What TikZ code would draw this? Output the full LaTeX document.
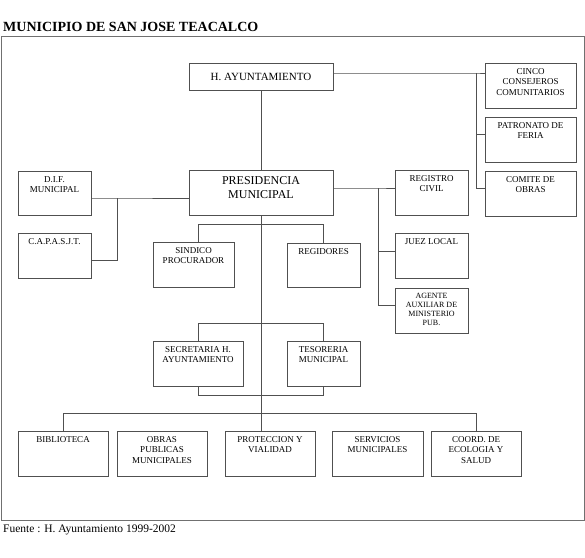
\documentclass[tikz,border=0pt]{standalone}
\usepackage{fontspec}
\setmainfont{Liberation Serif}
\definecolor{linec}{HTML}{505050}
\definecolor{framec}{HTML}{707070}
\newcommand{\smallfont}{\fontsize{9}{10.5}\selectfont}
\newcommand{\tinyfont}{\fontsize{8}{9}\selectfont}
\begin{document}
\begin{tikzpicture}[x=1pt,y=-1pt,
  orgbox/.style={draw=linec, line width=0.9pt, inner sep=0pt, fill=white},
  boxtext/.style={anchor=north, inner sep=0pt, align=center, font=\smallfont, text=black, yshift=-5.5pt},
  conn/.style={draw=linec, line width=0.9pt},
  bw/.style={minimum width=73pt, minimum height=45pt},
  ww/.style={minimum width=90pt, minimum height=45pt}]
\useasboundingbox (0,0) rectangle (585,557);
\fill[white] (0,0) rectangle (585,557);
% title and footer
\node[anchor=west, inner sep=0pt, font=\fontsize{14}{16}\selectfont\bfseries] (title) at (3,27) {MUNICIPIO DE SAN JOSE TEACALCO};
\node[anchor=west, inner sep=0pt, font=\fontsize{11.5}{13}\selectfont] (fuente) at (3,530) {Fuente : H. Ayuntamiento 1999-2002};
% frame
\draw[framec, line width=1pt] (1.5,36.5) rectangle (584,520);
% junction coordinates
\coordinate (bustop) at (476,73);
\coordinate (busbot) at (476,188);
\coordinate (difj) at (117,198);
\coordinate (capj) at (117,260);
\coordinate (regj) at (378,188);
\coordinate (agj) at (378,305);
\coordinate (sr) at (198,224);
\coordinate (rr) at (323,224);
\coordinate (st) at (198,323);
\coordinate (tt) at (323,323);
\coordinate (sb) at (198,395);
\coordinate (tb) at (323,395);
\coordinate (bl) at (63,413);
\coordinate (br) at (476,413);
% connectors (drawn first, boxes on top)
\draw[conn] (261,90) -- (261,170);
\draw[conn] (261,215) -- (261,431);
\draw[conn] (333,73) -- (bustop) -- (485,73);
\draw[conn] (bustop) -- (busbot) -- (485,188);
\draw[conn] (476,134) -- (485,134);
\draw[conn] (91,198) -- (difj) -- (189,198);
\draw[conn] (difj) -- (capj) -- (91,260);
\draw[conn] (333,188) -- (regj) -- (395,188);
\draw[conn] (regj) -- (agj) -- (395,305);
\draw[conn] (378,251) -- (395,251);
\draw[conn] (198,242) -- (sr) -- (rr) -- (323,243);
\draw[conn] (198,341) -- (st) -- (tt) -- (323,341);
\draw[conn] (198,386) -- (sb) -- (tb) -- (323,386);
\draw[conn] (63,431) -- (bl) -- (br) -- (476,431);
% boxes
\node[orgbox, minimum width=144pt, minimum height=27pt, font=\fontsize{11}{13}\selectfont] (ayunt) at (261,76.5) {H. AYUNTAMIENTO};
\node[orgbox, minimum width=91pt, minimum height=45pt, label={[boxtext]north:{CINCO\\CONSEJEROS\\COMUNITARIOS}}] (cinco) at (530.5,85.5) {};
\node[orgbox, minimum width=91pt, minimum height=45pt, label={[boxtext]north:{PATRONATO DE\\FERIA}}] (patro) at (530.5,139.5) {};
\node[orgbox, minimum width=91pt, minimum height=45pt, label={[boxtext]north:{COMITE DE\\OBRAS}}] (comite) at (530.5,193.5) {};
\node[orgbox, minimum width=144pt, minimum height=45pt, label={[boxtext, font=\fontsize{12}{14}\selectfont, yshift=-1.5pt]north:{PRESIDENCIA\\MUNICIPAL}}] (pres) at (261,192.5) {};
\node[orgbox, bw, minimum height=44pt, label={[boxtext]north:{D.I.F.\\MUNICIPAL}}] (dif) at (54.5,193) {};
\node[orgbox, bw, label={[boxtext]north:{C.A.P.A.S.J.T.}}] (capas) at (54.5,255.5) {};
\node[orgbox, minimum width=81pt, minimum height=45pt, label={[boxtext]north:{SINDICO\\PROCURADOR}}] (sindico) at (193.5,264.5) {};
\node[orgbox, bw, minimum height=44pt, label={[boxtext]north:{REGIDORES}}] (regid) at (323.5,265) {};
\node[orgbox, bw, label={[boxtext]north:{REGISTRO\\CIVIL}}] (registro) at (431.5,192.5) {};
\node[orgbox, bw, label={[boxtext]north:{JUEZ LOCAL}}] (juez) at (431.5,255.5) {};
\node[orgbox, bw, label={[boxtext, font=\tinyfont, yshift=0.5pt]north:{AGENTE\\AUXILIAR DE\\MINISTERIO\\PUB.}}] (agente) at (431.5,310.5) {};
\node[orgbox, ww, label={[boxtext]north:{SECRETARIA H.\\AYUNTAMIENTO}}] (secre) at (198,363.5) {};
\node[orgbox, bw, label={[boxtext]north:{TESORERIA\\MUNICIPAL}}] (teso) at (323.5,363.5) {};
\node[orgbox, ww, label={[boxtext]north:{BIBLIOTECA}}] (bib) at (63,453.5) {};
\node[orgbox, ww, label={[boxtext]north:{OBRAS\\PUBLICAS\\MUNICIPALES}}] (obras) at (162,453.5) {};
\node[orgbox, ww, label={[boxtext]north:{PROTECCION Y\\VIALIDAD}}] (prot) at (270,453.5) {};
\node[orgbox, minimum width=91pt, minimum height=45pt, label={[boxtext]north:{SERVICIOS\\MUNICIPALES}}] (serv) at (377.5,453.5) {};
\node[orgbox, ww, label={[boxtext]north:{COORD. DE\\ECOLOGIA Y\\SALUD}}] (coord) at (476,453.5) {};
\end{tikzpicture}
\end{document}
